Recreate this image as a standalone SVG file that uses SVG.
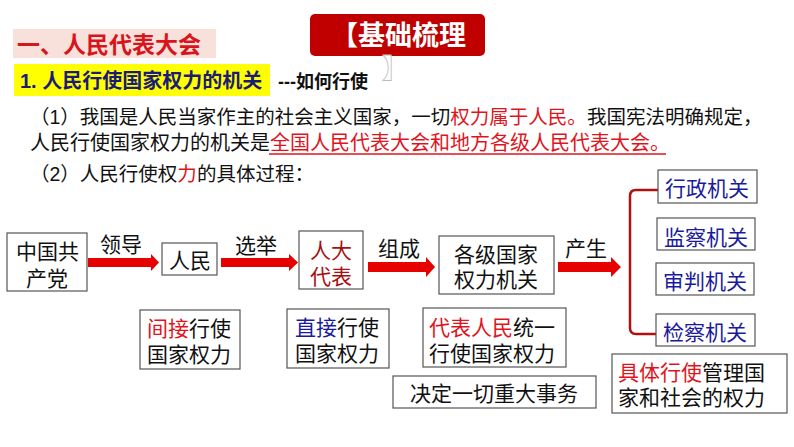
<svg xmlns="http://www.w3.org/2000/svg" width="794" height="447" viewBox="0 0 794 447">
<style>
text{font-family:"Liberation Sans","Noto Sans CJK SC",sans-serif;}
.bx{fill:#fff;stroke:#555;stroke-width:1.2;}
.t{font-size:21px;fill:#111;}
.blue{fill:#1a1a9c;}
.red{fill:#e0141c;}
.dred{fill:#a51010;}
.arr{fill:#e60000;}
.p1{font-size:19.5px;fill:#111;}
.p2{font-size:20px;fill:#111;}
</style>
<rect width="794" height="447" fill="#fff"/>
<g id="title">
<rect x="13" y="29" width="203" height="29" fill="#f8e1da"/>
<text x="17" y="53" font-size="23" font-weight="bold" fill="#d8141c">一、人民代表大会</text>
</g>
<g id="subtitle">
<rect x="14" y="64" width="256" height="32" fill="#ffff00"/>
<text x="20" y="88" font-size="20" font-weight="bold" fill="#1b1b78">1. 人民行使国家权力的机关</text>
<text x="278" y="88" font-size="18" font-weight="bold" fill="#111">---如何行使</text>
</g>
<g id="badge">
<rect x="310" y="14" width="175" height="42" rx="5" fill="#c00000"/>
<text x="331" y="45" font-size="27" font-weight="bold" fill="#fff">【基础梳理</text>
<text x="382" y="78" font-size="27" font-weight="bold" fill="#fff" stroke="#bbb" stroke-width="0.8">】</text>
</g>
<g id="paragraph">
<text x="30" y="124" class="p1">（1）我国是人民当家作主的社会主义国家，一切<tspan class="red">权力属于人民。</tspan>我国宪法明确规定，</text>
<text x="30" y="150" class="p2">人民行使国家权力的机关是<tspan class="red">全国人民代表大会和地方各级人民代表大会。</tspan></text>
<line x1="269" y1="154" x2="666" y2="154" stroke="#e0141c" stroke-width="1.5"/>
<text x="30" y="181" class="p1">（2）人民行使权<tspan class="red">力</tspan>的具体过程：</text>
</g>
<g id="connectors">
<polygon class="arr" points="88,258 151,258 151,254 159,262.5 151,271 151,267 88,267"/>
<polygon class="arr" points="221,258 289,258 289,254 298,262.5 289,271 289,267 221,267"/>
<polygon class="arr" points="368,262 426,262 426,257 435,267 426,277 426,272 368,272"/>
<polygon class="arr" points="558,262 611,262 611,257 621,267 611,277 611,272 558,272"/>
<path d="M658,190 H636 Q630,190 630,196 V328 Q630,334 636,334 H656" fill="none" stroke="#b01010" stroke-width="2.5"/>
<text x="100" y="252" class="t">领导</text>
<text x="235" y="253" class="t">选举</text>
<text x="378" y="256" class="t">组成</text>
<text x="565" y="256" class="t">产生</text>
</g>
<g id="cpc">
<rect class="bx" x="7" y="233" width="80" height="58"/>
<text class="t"><tspan x="16" y="259">中国共</tspan><tspan x="26" y="286">产党</tspan></text>
</g>
<g id="people">
<rect class="bx" x="162" y="243" width="55" height="32"/>
<text x="169" y="268" class="t">人民</text>
</g>
<g id="deputies">
<rect class="bx" x="299" y="231" width="64" height="58"/>
<text class="t dred"><tspan x="310" y="258">人大</tspan><tspan x="310" y="284">代表</tspan></text>
</g>
<g id="organs">
<rect class="bx" x="439" y="236" width="115" height="58"/>
<text class="t"><tspan x="454" y="262">各级国家</tspan><tspan x="454" y="287">权力机关</tspan></text>
</g>
<g id="admin">
<rect class="bx" x="658" y="170" width="99" height="33"/>
<text x="665" y="196" class="t blue">行政机关</text>
</g>
<g id="supervision">
<rect class="bx" x="657" y="218" width="98" height="32"/>
<text x="664" y="245" class="t blue">监察机关</text>
</g>
<g id="judicial">
<rect class="bx" x="656" y="263" width="98" height="32"/>
<text x="663" y="289" class="t blue">审判机关</text>
</g>
<g id="procuratorial">
<rect class="bx" x="656" y="314" width="99" height="32"/>
<text x="663" y="340" class="t blue">检察机关</text>
</g>
<g id="indirect">
<rect class="bx" x="140" y="310" width="100" height="59"/>
<text class="t"><tspan x="147" y="336" class="red">间接</tspan><tspan>行使</tspan><tspan x="147" y="362">国家权力</tspan></text>
</g>
<g id="direct">
<rect class="bx" x="287" y="309" width="102" height="59"/>
<text class="t"><tspan x="295" y="335" class="blue">直接</tspan><tspan>行使</tspan><tspan x="295" y="361">国家权力</tspan></text>
</g>
<g id="unified">
<rect class="bx" x="423" y="308" width="143" height="59"/>
<text class="t"><tspan x="429" y="335" class="red">代表人民</tspan><tspan>统一</tspan><tspan x="429" y="361">行使国家权力</tspan></text>
</g>
<g id="decide">
<rect class="bx" x="393" y="376" width="203" height="32"/>
<text x="410" y="401" class="t">决定一切重大事务</text>
</g>
<g id="specific">
<rect class="bx" x="612" y="354" width="175" height="59"/>
<text class="t"><tspan x="618" y="380" class="red">具体行使</tspan><tspan>管理国</tspan><tspan x="618" y="405">家和社会的权力</tspan></text>
</g>
</svg>
